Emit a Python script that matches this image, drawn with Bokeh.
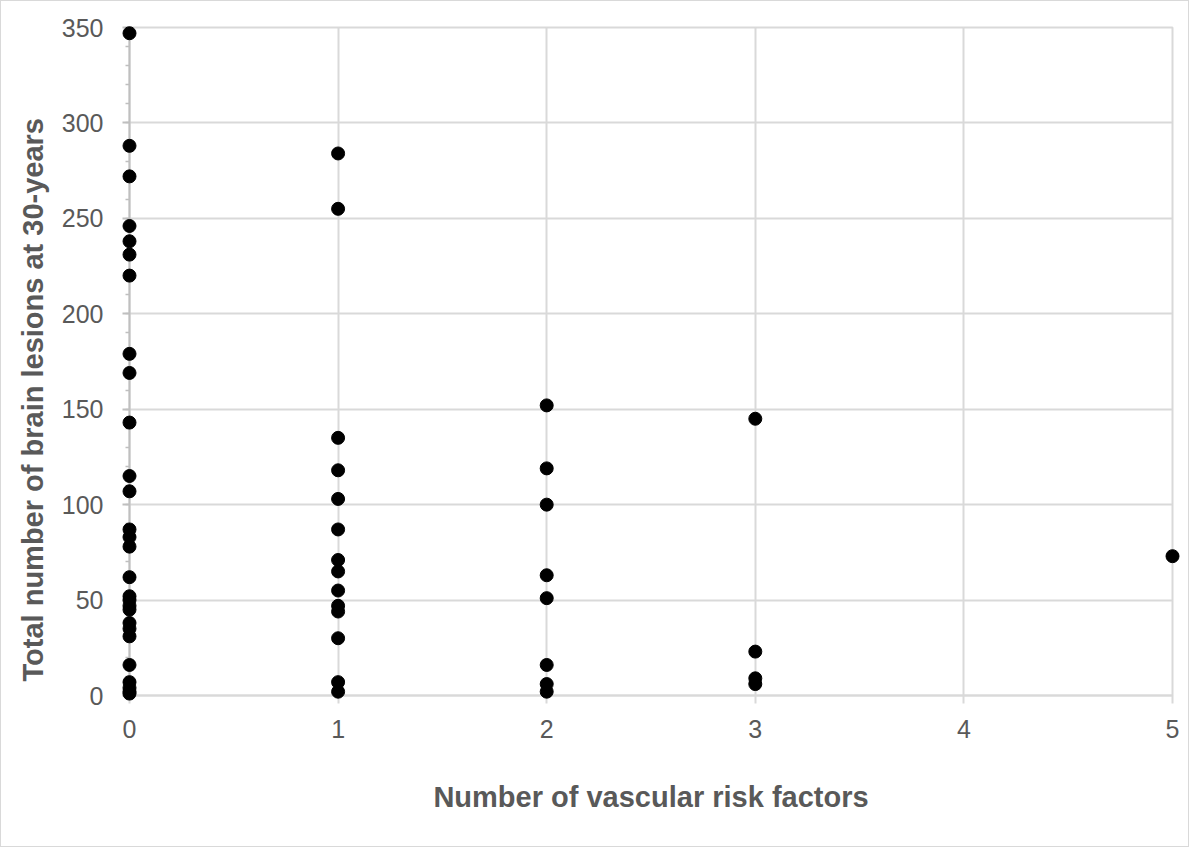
from bokeh.plotting import figure
from bokeh.models import SingleIntervalTicker, Title, Range1d
from bokeh.core.properties import value
from bokeh.embed import file_html
from bokeh.resources import INLINE

# Data
lesions_0 = [347, 288, 272, 246, 238, 231, 220, 179, 169, 143, 115, 107, 87, 83, 78,
             62, 52, 50, 47, 45, 38, 35, 31, 16, 7, 4, 2, 1]
lesions_1 = [284, 255, 135, 118, 103, 87, 71, 65, 55, 47, 44, 30, 7, 2]
lesions_2 = [152, 119, 100, 63, 51, 16, 6, 2]
lesions_3 = [145, 23, 9, 6]
lesions_5 = [73]

groups = {0: lesions_0, 1: lesions_1, 2: lesions_2, 3: lesions_3, 5: lesions_5}
risk_factors = []
lesions = []
for k, vals in groups.items():
    risk_factors += [k] * len(vals)
    lesions += vals

x_title = "Number of vascular risk factors"
y_title = "Total number of brain lesions at 30-years"

FONT = "Liberation Sans"
TXT = "#595959"
GRID = "#d9d9d9"
AXIS = "#bfbfbf"

p = figure(width=1189, height=847, output_backend="svg", toolbar_location=None,
           x_range=Range1d(0, 5), y_range=Range1d(0, 350),
           min_border_left=128, min_border_right=18, min_border_top=26,
           min_border_bottom=153)
p.background_fill_color = "white"
p.border_fill_color = "white"
p.outline_line_color = GRID
p.outline_line_width = 2
p.styles = {"border": "1px solid #d9d9d9"}

p.xaxis.ticker = SingleIntervalTicker(interval=1, num_minor_ticks=0)
p.yaxis.ticker = SingleIntervalTicker(interval=50, num_minor_ticks=5)

p.xgrid.grid_line_color = GRID
p.xgrid.grid_line_width = 2
p.ygrid.grid_line_color = GRID
p.ygrid.grid_line_width = 2

for ax in (p.xaxis, p.yaxis):
    ax.major_label_text_font = FONT
    ax.major_label_text_font_size = "25px"
    ax.major_label_text_color = TXT

p.xaxis.axis_line_color = GRID
p.xaxis.axis_line_width = 2
p.xaxis.major_tick_line_color = GRID
p.xaxis.major_tick_line_width = 2
p.xaxis.major_tick_out = 8
p.xaxis.major_tick_in = 0
p.xaxis.minor_tick_line_color = None
p.xaxis.major_label_standoff = 16
p.xaxis.axis_label = x_title
p.xaxis.axis_label_text_font = FONT
p.xaxis.axis_label_text_font_size = "29px"
p.xaxis.axis_label_text_font_style = "bold"
p.xaxis.axis_label_text_color = TXT
p.xaxis.axis_label_standoff = 40

p.yaxis.axis_line_color = AXIS
p.yaxis.axis_line_width = 2
p.yaxis.major_tick_line_color = AXIS
p.yaxis.major_tick_line_width = 2
p.yaxis.major_tick_out = 7
p.yaxis.major_tick_in = 0
p.yaxis.minor_tick_line_color = AXIS
p.yaxis.minor_tick_line_width = 1.5
p.yaxis.minor_tick_out = 4
p.yaxis.minor_tick_in = 0
p.yaxis.major_label_standoff = 19

ytitle = Title(text=y_title, align="left", offset=14,
               text_font=FONT, text_font_size="29px", text_font_style="bold",
               text_color=TXT, standoff=20)
p.add_layout(ytitle, "left")

r = p.scatter(risk_factors, lesions, size=13, fill_color="black", line_color="black")
r.level = "overlay"

open("out.html", "w").write(file_html(p, INLINE))
